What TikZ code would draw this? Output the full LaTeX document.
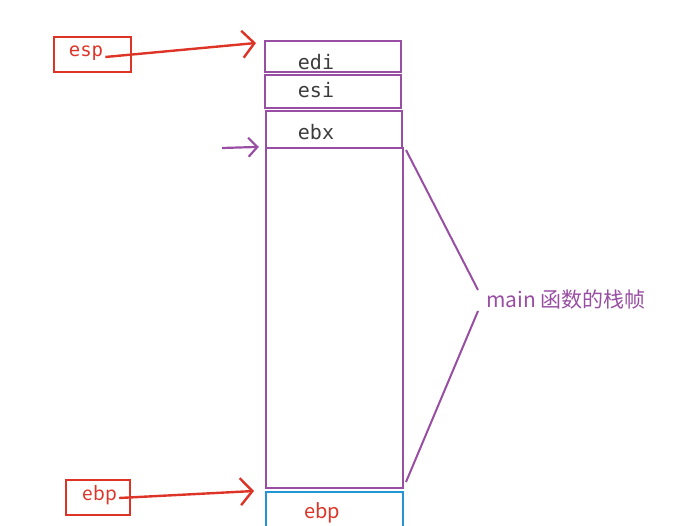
\documentclass[tikz,border=0pt]{standalone}
\usepackage{fontspec}
\setmainfont{Noto Sans CJK SC}
\setmonofont{DejaVu Sans Mono}
\usetikzlibrary{arrows.meta, positioning}

\definecolor{regred}{RGB}{222,52,40}
\definecolor{framepurple}{RGB}{152,78,162}
\definecolor{oldblue}{RGB}{34,150,212}
\definecolor{slotgray}{RGB}{60,60,60}

\tikzset{
    slot/.style={draw=framepurple, line width=2.2pt, minimum width=136pt, inner sep=0pt},
    slottext/.style={text=slotgray, font=\ttfamily\fontsize{20}{20}\selectfont, inner sep=0pt},
    regbox/.style={draw=regred, line width=2.2pt, inner sep=0pt},
    redarrow/.style={regred, line width=2.4pt, -{Straight Barb[length=12pt, width=27pt, line width=2.4pt]}},
}

\begin{document}
\begin{tikzpicture}[x=1pt, y=-1pt]
        \useasboundingbox (0,0) rectangle (688,526);

        % Stack slots
        \node[slot, minimum height=31pt] (edi) at (333,56.5) {};
        \node[slot, minimum height=33pt] (esi) at (333,91.5) {};
        \node[slot, minimum height=37pt] (ebx) at (334,129.5) {};
        \node[slot, minimum width=137pt, minimum height=340pt] (frame) at (334.5,318) {};
        \node[draw=oldblue, line width=2.2pt, minimum width=137pt, minimum height=40pt, inner sep=0pt] (oldebp) at (334.5,512) {};

        \node[slottext] (ediL) at (316,62) {edi};
        \node[slottext] (esiL) at (316,90) {esi};
        \node[slottext] (ebxL) at (316,132) {ebx};
        \node[text=regred, font=\fontsize{20}{20}\selectfont, inner sep=0pt] (oldebpL) at (322,513) {ebp};

        % Registers
        \node[regbox, minimum width=77pt, minimum height=35pt] (esp) at (92.5,54.5) {};
        \node[text=regred, font=\ttfamily\fontsize{19}{19}\selectfont, inner sep=0pt] (espL) at (86,53) {esp};
        \node[regbox, minimum width=64pt, minimum height=35pt] (ebp) at (98,497.5) {};
        \node[text=regred, font=\fontsize{19}{19}\selectfont, inner sep=0pt] (ebpL) at (100,495) {ebp};

        \coordinate (espTip) at (256,43);
        \coordinate (ebpTip) at (254,491);
        \draw[redarrow] (espL.east) ++(2,4) -- (espTip);
        \draw[redarrow] (ebpL.east) ++(2,3) -- (ebpTip);

        % Frame pointer mark
        \coordinate (markStart) at (222,148);
        \draw[framepurple, line width=2.2pt, -{Straight Barb[length=9pt, width=19pt, line width=2.2pt]}] (markStart) -- ([xshift=-6pt]frame.north west);

        % Brace of main frame
        \node[text=framepurple, font=\fontsize{21}{21}\selectfont, anchor=west, inner sep=0pt] (mainL) at (486,300) {main 函数的栈帧};
        \coordinate (braceTop) at (406,150);
        \coordinate (braceBot) at (406,482);
        \draw[framepurple, line width=2pt] (braceTop) -- ([xshift=-8pt, yshift=10pt]mainL.west);
        \draw[framepurple, line width=2pt] ([xshift=-8pt, yshift=-11pt]mainL.west) -- (braceBot);
    \end{tikzpicture}
\end{document}
